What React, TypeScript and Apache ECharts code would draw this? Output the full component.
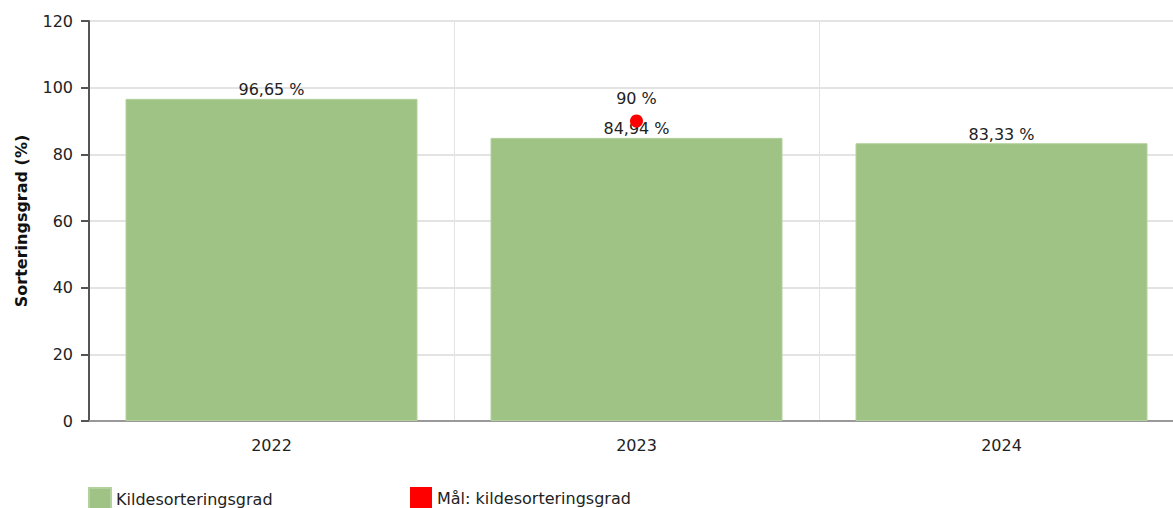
import React, { useEffect, useRef } from "react";
import * as echarts from "echarts";

const categories = ["2022", "2023", "2024"];
const sortingValues = [96.65, 84.94, 83.33];
const targetValues: (number | null)[] = [null, 90, null];
const yTicks = { min: 0, max: 120, interval: 20 };
const seriesNames = ["Kildesorteringsgrad", "Mål: kildesorteringsgrad"];
const yAxisName = "Sorteringsgrad (%)";

const fmt = (v: number) => v.toString().replace(".", ",") + " %";

export default function App() {
  const ref = useRef<HTMLDivElement>(null);
  useEffect(() => {
    if (!ref.current) return;
    const chart = echarts.init(ref.current, undefined, { renderer: "svg" });
    const font = "'DejaVu Sans', Verdana, sans-serif";
    chart.setOption({
      animation: false,
      textStyle: { fontFamily: font },
      grid: { left: 89, top: 21, height: 400, width: 1095 },
      legend: [
        {
          left: 83,
          top: 482,
          itemWidth: 22,
          itemHeight: 22,
          textStyle: { fontSize: 16, color: "#222", fontFamily: font },
          data: [{ name: seriesNames[0], icon: "rect" }],
        },
        {
          left: 405,
          top: 482,
          itemWidth: 22,
          itemHeight: 22,
          textStyle: { fontSize: 16, color: "#222", fontFamily: font },
          data: [{ name: seriesNames[1], icon: "rect" }],
        },
      ],
      xAxis: {
        type: "category",
        data: categories,
        axisLine: { lineStyle: { color: "#999", width: 2 } },
        axisTick: { alignWithLabel: true, length: 6, lineStyle: { color: "#bbb" } },
        axisLabel: { fontSize: 16, color: "#222", margin: 16, fontFamily: font },
        splitLine: { show: true, lineStyle: { color: "#e3e3e3", width: 1 } },
      },
      yAxis: {
        type: "value",
        min: yTicks.min,
        max: yTicks.max,
        interval: yTicks.interval,
        name: yAxisName,
        nameLocation: "middle",
        nameGap: 60,
        nameTextStyle: { fontSize: 16, fontWeight: "bold", color: "#111", fontFamily: font },
        axisLine: { show: true, lineStyle: { color: "#555", width: 2 } },
        axisTick: { show: true, length: 8, lineStyle: { color: "#555", width: 2 } },
        axisLabel: { fontSize: 16, color: "#222", margin: 16, fontFamily: font },
        splitLine: { lineStyle: { color: "#e3e3e3", width: 2 } },
      },
      series: [
        {
          name: seriesNames[0],
          type: "bar",
          data: sortingValues,
          barCategoryGap: "20%",
          itemStyle: { color: "#9ec384", borderColor: "#b3d19e", borderWidth: 1 },
          label: {
            show: true,
            position: "top",
            distance: 1,
            fontSize: 16,
            color: "#222",
            fontFamily: font,
            formatter: (p: any) => fmt(p.value),
          },
          z: 2,
        },
        {
          name: seriesNames[1],
          type: "scatter",
          data: targetValues,
          symbol: "circle",
          symbolSize: 13,
          itemStyle: { color: "#ff0000", opacity: 1 },
          label: {
            show: true,
            position: "top",
            distance: 8,
            fontSize: 16,
            color: "#222",
            fontFamily: font,
            formatter: (p: any) => fmt(p.value),
          },
          z: 3,
        },
      ],
    });
    return () => chart.dispose();
  }, []);
  return (
    <div
      ref={ref}
      style={{ position: "fixed", left: 0, top: 0, width: 1200, height: 508, background: "#fff" }}
    />
  );
}
